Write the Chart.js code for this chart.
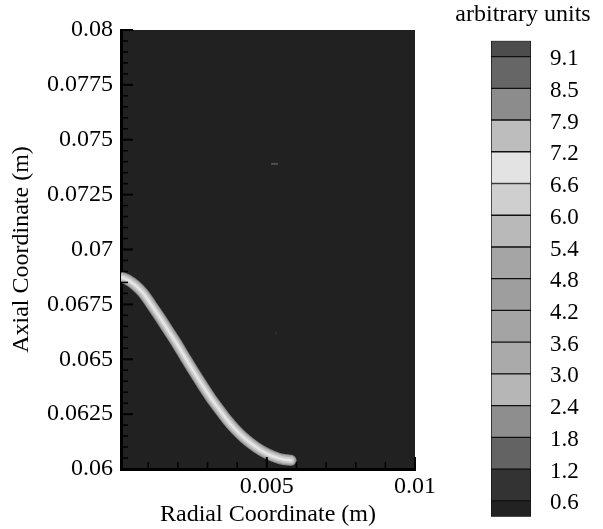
<!DOCTYPE html>
<html>
<head>
<meta charset="utf-8">
<script src="https://cdn.jsdelivr.net/npm/chart.js@4/dist/chart.umd.min.js"></script>
<style>
  html, body { margin: 0; padding: 0; background: #ffffff; }
  #main { position: absolute; left: 0; top: 0; width: 603px; height: 529px; }
  #bar { position: absolute; left: 443px; top: 0; width: 160px; height: 529px; }
</style>
</head>
<body>
<div id="main"><canvas id="c1"></canvas></div>
<div id="bar"><canvas id="c2"></canvas></div>
<script>
// ---- data ----
const curveX = [0.000132, 0.000317, 0.000553, 0.000823, 0.00111, 0.001397, 0.001684, 0.00197, 0.00224, 0.00251, 0.002797, 0.003084, 0.00337, 0.003657, 0.003927, 0.004197, 0.004484, 0.00477, 0.005057, 0.005344, 0.00558, 0.005816];
const curveY = [0.068724, 0.06861, 0.068382, 0.068018, 0.067471, 0.066897, 0.066296, 0.065694, 0.065088, 0.064491, 0.063881, 0.063289, 0.062756, 0.062241, 0.061822, 0.061466, 0.061147, 0.060878, 0.060669, 0.060514, 0.060432, 0.060396];
const speckX = [0.00526, 0.00531];
const speckY = [0.07390, 0.06620];

const yTickValues = [0.06, 0.0625, 0.065, 0.0675, 0.07, 0.0725, 0.075, 0.0775, 0.08];
const yTickLabels = ['0.06', '0.0625', '0.065', '0.0675', '0.07', '0.0725', '0.075', '0.0775', '0.08'];
const yMinorTicks = [0.0605, 0.061, 0.0615, 0.062, 0.063, 0.0635, 0.064, 0.0645, 0.0655, 0.066, 0.0665, 0.067, 0.068, 0.0685, 0.069, 0.0695, 0.0705, 0.071, 0.0715, 0.072, 0.073, 0.0735, 0.074, 0.0745, 0.0755, 0.076, 0.0765, 0.077, 0.078, 0.0785, 0.079, 0.0795];
const xTickValues = [0.005, 0.01];
const xTickLabels = ['0.005', '0.01'];
const xMinorTicks = [0.001, 0.002, 0.003, 0.004, 0.006, 0.007, 0.008, 0.009];

// contour levels (bottom to top) and legend boundary labels
const levelLabels = ['0.6', '1.2', '1.8', '2.4', '3.0', '3.6', '4.2', '4.8', '5.4', '6.0', '6.6', '7.2', '7.9', '8.5', '9.1'];
const levelColors = ['#222222', '#333333', '#636363', '#8e8e8e', '#b6b6b6', '#aaaaaa', '#a4a4a4', '#9e9e9e', '#a5a5a5', '#b9b9b9', '#cfcfcf', '#e3e3e3', '#bdbdbd', '#8c8c8c', '#666666', '#4d4d4d'];

const FONT = "'Liberation Serif', 'Times New Roman', serif";
const curvePts = curveX.map((x, i) => ({ x: x, y: curveY[i] }));
const speckPts = speckX.map((x, i) => ({ x: x, y: speckY[i] }));

const bgPlugin = {
  id: 'bg',
  beforeDraw(chart) {
    const a = chart.chartArea, ctx = chart.ctx;
    ctx.save();
    ctx.fillStyle = '#212121';
    ctx.fillRect(a.left, a.top, a.right - a.left, a.bottom - a.top);
    ctx.restore();
  }
};

const tickPlugin = {
  id: 'inTicks',
  afterDraw(chart) {
    const ctx = chart.ctx, a = chart.chartArea;
    const xs = chart.scales.x, ys = chart.scales.y;
    ctx.save();
    ctx.strokeStyle = '#000000';
    function yt(v, len, w) {
      const p = ys.getPixelForValue(v);
      ctx.lineWidth = w; ctx.beginPath(); ctx.moveTo(a.left, p); ctx.lineTo(a.left + len, p); ctx.stroke();
    }
    function xt(v, len, w) {
      const p = xs.getPixelForValue(v);
      ctx.lineWidth = w; ctx.beginPath(); ctx.moveTo(p, a.bottom); ctx.lineTo(p, a.bottom - len); ctx.stroke();
    }
    yTickValues.forEach(v => yt(v, 12, 2));
    yMinorTicks.forEach(v => yt(v, 7, 1.5));
    xTickValues.forEach(v => xt(v, 12, 2));
    xMinorTicks.forEach(v => xt(v, 7, 1.5));
    ctx.restore();
  }
};

function band(color, width) {
  return { data: curvePts, borderColor: color, borderWidth: width, borderCapStyle: 'round', borderJoinStyle: 'round',
    pointRadius: 0, cubicInterpolationMode: 'monotone' };
}

new Chart(document.getElementById('c1'), {
  type: 'line',
  data: {
    datasets: [
      band('#e6e6e6', 2.5),
      band('#cacaca', 6),
      band('#adadad', 9),
      band('#8a8a8a', 11),
      { type: 'scatter', data: speckPts, showLine: false, pointStyle: 'line', pointRadius: [3.5, 1.5], rotation: [0, 90],
        borderColor: ['#4f4f4f', '#3a3a3a'], pointBorderWidth: [2, 1] }
    ]
  },
  options: {
    responsive: true,
    maintainAspectRatio: false,
    animation: false,
    layout: { padding: { left: 0, right: 188, top: 30, bottom: 0 } },
    plugins: { legend: { display: false }, tooltip: { enabled: false }, title: { display: false } },
    scales: {
      x: {
        type: 'linear', min: 0.00008, max: 0.01,
        grid: { display: false, drawTicks: false },
        border: { display: true, width: 3, color: '#000000' },
        afterBuildTicks: s => { s.ticks = xTickValues.map(v => ({ value: v })); },
        afterFit: s => { s.height = 60; },
        ticks: { color: '#000000', font: { family: FONT, size: 24 }, padding: 3, maxRotation: 0, autoSkip: false,
          callback: (v, i) => xTickLabels[i] },
        title: { display: true, text: 'Radial Coordinate (m)', color: '#000000', font: { family: FONT, size: 24 }, padding: { top: 0, bottom: 0 } }
      },
      y: {
        type: 'linear', min: 0.06, max: 0.08,
        grid: { display: false, drawTicks: false },
        border: { display: true, width: 3, color: '#000000' },
        afterBuildTicks: s => { s.ticks = yTickValues.map(v => ({ value: v })); },
        afterFit: s => { s.width = 121; },
        ticks: { color: '#000000', font: { family: FONT, size: 24 }, padding: 8, autoSkip: false,
          callback: (v, i) => yTickLabels[i] },
        title: { display: true, text: 'Axial Coordinate (m)', color: '#000000', font: { family: FONT, size: 24 }, padding: { top: 7, bottom: 0 } }
      }
    }
  },
  plugins: [bgPlugin, tickPlugin]
});

// ---- colour bar ----
const barSets = levelColors.map((c, i) => ({
  data: [[i === 0 ? 0 : i - 0.5, i === levelColors.length - 1 ? levelLabels.length : i + 0.5]],
  xAxisID: 'x',
  yAxisID: 'y',
  backgroundColor: c,
  borderColor: '#111111',
  borderWidth: 1,
  borderSkipped: false,
  grouped: false,
  barPercentage: 1,
  categoryPercentage: 1
}));

new Chart(document.getElementById('c2'), {
  type: 'bar',
  data: { labels: [''], datasets: barSets },
  options: {
    responsive: true,
    maintainAspectRatio: false,
    animation: false,
    layout: { padding: { left: 0, right: 0, top: 0, bottom: 12.3 } },
    plugins: {
      legend: { display: false }, tooltip: { enabled: false },
      title: { display: true, text: 'arbitrary units', color: '#000000', font: { family: FONT, size: 24, weight: 'normal' }, padding: { top: 0, bottom: 11.9 } }
    },
    scales: {
      x: { display: false },
      y: {
        position: 'right', min: 0, max: levelLabels.length,
        grid: { display: false, drawTicks: false },
        border: { display: false },
        afterBuildTicks: s => { s.ticks = levelLabels.map((l, i) => ({ value: i + 0.5 })); },
        afterFit: s => { s.width = 72; s.paddingTop = 0; s.paddingBottom = 0; },
        ticks: { color: '#000000', font: { family: FONT, size: 23 }, padding: 19, autoSkip: false, labelOffset: 2.5,
          callback: (v, i) => levelLabels[i] }
      },
      spacer: {
        type: 'linear', position: 'left', display: true, min: 0, max: 1,
        grid: { display: false, drawTicks: false }, border: { display: false },
        ticks: { display: false },
        afterFit: s => { s.width = 48; s.paddingTop = 0; s.paddingBottom = 0; }
      }
    }
  }
});
</script>
</body>
</html>
